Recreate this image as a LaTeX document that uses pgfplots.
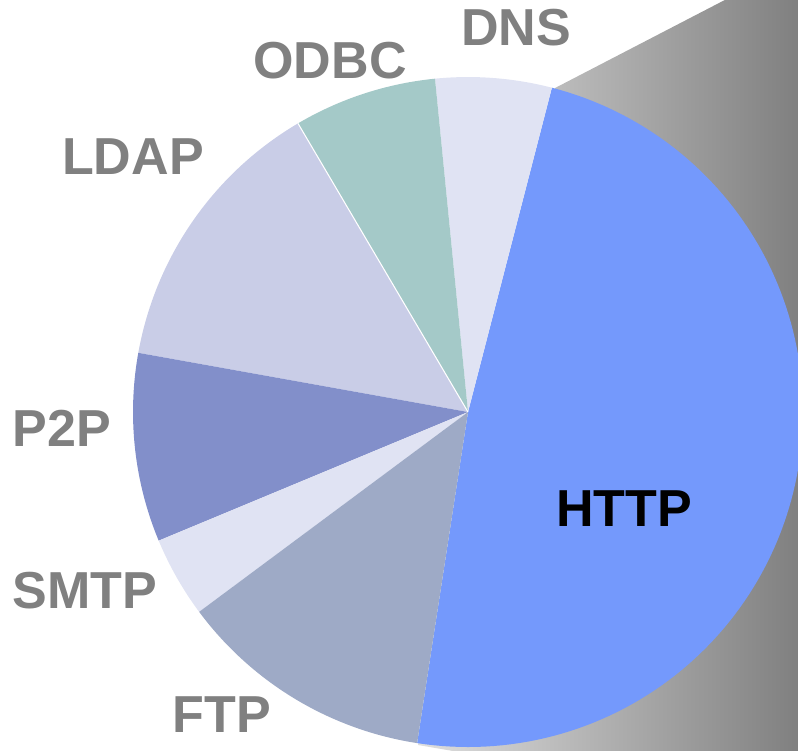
\documentclass[border=0pt]{standalone}
\usepackage{pgfplots}
\pgfplotsset{compat=1.18}
\usepackage{fontspec}
\setmainfont{Liberation Sans}
\definecolor{cHTTP}{RGB}{116,153,252}
\definecolor{cDNS}{RGB}{224,227,243}
\definecolor{cODBC}{RGB}{164,201,200}
\definecolor{cLDAP}{RGB}{201,205,231}
\definecolor{cPTP}{RGB}{130,143,202}
\definecolor{cSMTP}{RGB}{224,227,243}
\definecolor{cFTP}{RGB}{158,170,198}
\definecolor{lab}{RGB}{128,128,128}
\definecolor{gL}{RGB}{222,222,222}
\definecolor{gR}{RGB}{128,128,128}
\begin{document}
\begin{tikzpicture}
% shares in percent
\def\vHTTP{48.4}\def\vDNS{5.6}\def\vODBC{6.9}\def\vLDAP{13.7}
\def\vPTP{9.1}\def\vSMTP{3.9}\def\vFTP{12.4}
\pgfmathsetmacro\aA{75.5}
\pgfmathsetmacro\aB{\aA+3.6*\vDNS}
\pgfmathsetmacro\aC{\aB+3.6*\vODBC}
\pgfmathsetmacro\aD{\aC+3.6*\vLDAP}
\pgfmathsetmacro\aE{\aD+3.6*\vPTP}
\pgfmathsetmacro\aF{\aE+3.6*\vSMTP}
\pgfmathsetmacro\aG{\aF+3.6*\vFTP}
\pgfmathsetmacro\aH{\aG+3.6*\vHTTP}
\begin{axis}[
  at={(0,0)}, anchor=south west,
  scale only axis, width=7.98cm, height=7.5cm,
  xmin=0, xmax=798, ymin=0, ymax=750,
  hide axis, clip=true,
]
% gradient wedge
\addplot[draw=none, left color=gL, right color=gR]
  coordinates {(418,5) (555,662) (798,788) (798,-60)} -- cycle;
% slices
\addplot[fill=cHTTP, draw=none, domain=\aG:\aH, samples=120, variable=\t]
  ({468+335*cos(\t)},{338+335*sin(\t)}) -- (axis cs:468,338) -- cycle;
\addplot[fill=cDNS, draw=none, domain=\aA:\aB, samples=30, variable=\t]
  ({468+335*cos(\t)},{338+335*sin(\t)}) -- (axis cs:468,338) -- cycle;
\addplot[fill=cODBC, draw=none, domain=\aB:\aC, samples=30, variable=\t]
  ({468+335*cos(\t)},{338+335*sin(\t)}) -- (axis cs:468,338) -- cycle;
\addplot[fill=cLDAP, draw=none, domain=\aC:\aD, samples=50, variable=\t]
  ({468+335*cos(\t)},{338+335*sin(\t)}) -- (axis cs:468,338) -- cycle;
\addplot[fill=cPTP, draw=none, domain=\aD:\aE, samples=40, variable=\t]
  ({468+335*cos(\t)},{338+335*sin(\t)}) -- (axis cs:468,338) -- cycle;
\addplot[fill=cSMTP, draw=none, domain=\aE:\aF, samples=20, variable=\t]
  ({468+335*cos(\t)},{338+335*sin(\t)}) -- (axis cs:468,338) -- cycle;
\addplot[fill=cFTP, draw=none, domain=\aF:\aG, samples=50, variable=\t]
  ({468+335*cos(\t)},{338+335*sin(\t)}) -- (axis cs:468,338) -- cycle;
% thin white edge between ODBC and LDAP
\addplot[white, line width=0.3pt, domain=0:335, samples=2, variable=\r]
  ({468+\r*cos(\aC)},{338+\r*sin(\aC)});
% labels
\begin{scope}[every node/.style={font=\fontsize{14.8}{16}\selectfont\bfseries, text=lab, inner sep=0pt}]
\node at (axis cs:516,722) {DNS};
\node at (axis cs:330,689) {ODBC};
\node at (axis cs:133,593) {LDAP};
\node at (axis cs:62,322) {P2P};
\node at (axis cs:85,159) {SMTP};
\node at (axis cs:222,35) {FTP};
\node[text=black] at (axis cs:624,241) {HTTP};
\end{scope}
\end{axis}
\pgfresetboundingbox
\useasboundingbox (0,0) rectangle (7.98cm,7.5cm);
\end{tikzpicture}
\end{document}
